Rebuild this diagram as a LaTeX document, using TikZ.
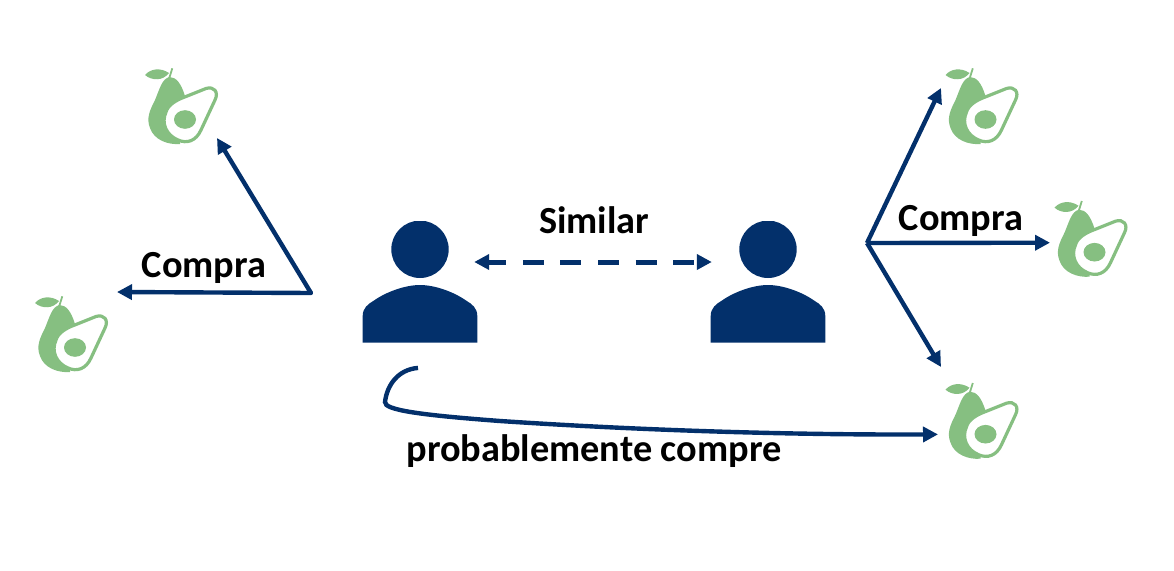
\documentclass[tikz,border=0pt]{standalone}
\usepackage{fontspec}
\setmainfont{Carlito}
\usepackage{xcolor}
\usetikzlibrary{arrows.meta}
\definecolor{navy}{HTML}{03306B}
\definecolor{leafgreen}{HTML}{86BF81}
\tikzset{
	avocado/.style={minimum size=88pt,inner sep=0pt,path picture={
		\draw[leafgreen,line width=1.8pt] (-7.7,-41.7)--(-10.7,-32);
		\fill[leafgreen] (-35,-35) .. controls (-30,-41) and (-20,-43) .. (-11,-37) .. controls (-17,-29) and (-28,-29) .. (-35,-35);
		\fill[leafgreen] (-10.7,-33) .. controls (-4,-33) and (1,-27) .. (5,-14) -- (0,34) .. controls (-12,35) and (-26,30) .. (-30,18) .. controls (-34,8) and (-30,0) .. (-25,-10) .. controls (-20,-22) and (-18,-31) .. (-10.7,-33);
		\draw[leafgreen,line width=3.2pt,fill=white] (6,-13.5) -- (26,-21.5) .. controls (34,-24) and (39,-18) .. (35,-10) -- (21,20) .. controls (16,31) and (7,34) .. (-2,30) .. controls (-14,25) and (-19,13) .. (-14,2) .. controls (-12,-5) and (-4,-10) .. (6,-13.5) -- cycle;
		\fill[leafgreen,rotate around={40:(5,9.5)}] (5,9.5) ellipse [x radius=11,y radius=9.3];
		}},
	usernode/.style={minimum width=116pt,minimum height=122pt,inner sep=0pt,path picture={
		\fill[navy] (0,-32.7) circle [radius=28.7];
		\fill[navy] (-57.3,60.7) -- (-57.3,34) .. controls (-57.3,26) and (-52,22) .. (-46,18.5) .. controls (-34,10) and (-15,3) .. (0,3) .. controls (15,3) and (34,10) .. (46,18.5) .. controls (52,22) and (57.3,26) .. (57.3,34) -- (57.3,60.7) -- cycle;
		}},
	buyline/.style={navy,line width=4.4pt},
	caption/.style={font=\bfseries\fontsize{38.3}{42}\selectfont,text=black,inner sep=0pt},
}
\begin{document}
\begin{tikzpicture}[x=1pt,y=-1pt,>={Triangle[length=15pt,width=15pt]}]
\useasboundingbox (0,0) rectangle (1174,570);

\node[usernode] (userA) at (420,282) {};
\node[usernode] (userB) at (768,282) {};

\node[avocado] (avoLT) at (180,110) {};
\node[avocado] (avoLB) at (70,338) {};
\node[avocado] (avoRT) at (980.5,110) {};
\node[avocado] (avoRM) at (1089.5,242.7) {};
\node[avocado] (avoRB) at (980.5,424.7) {};

\coordinate (hubL) at (311,293);
\coordinate (hubR) at (867,243);

\node[caption] (similar) at (594,220) {Similar};
\node[caption] (buyL) at (204,268) {Compra};
\node[caption] (buyR) at (961,221) {Compra};
\node[caption] (likely) at (594,451.5) {probablemente compre};

\draw[<->,buyline,line join=round] ([shift={(37pt,-28pt)}]avoLT.center)--(hubL)--([shift={(47pt,46pt)}]avoLB.center);
\draw[<->,buyline,line width=5pt,dash pattern=on 21pt off 16.6pt,dash phase=3pt] ([shift={(-4pt,20pt)}]userA.east)--([shift={(2pt,20pt)}]userB.west);

\draw[->,buyline] (hubR)--([shift={(-39.5pt,22pt)}]avoRT.center);
\draw[->,buyline] (hubR)--([xshift=-39.5pt]avoRM.center);
\draw[->,buyline] (hubR)--([shift={(-39.5pt,57.7pt)}]avoRB.center);

\draw[->,buyline] ([shift={(-2pt,-24.7pt)}]userA.south) .. controls (398,369.5) and (387,385) .. (385,402) .. controls (384,410) and (420,415) .. (500,421) .. controls (650,431) and (800,435) .. ([shift={(-42.5pt,-9.7pt)}]avoRB.center);
\end{tikzpicture}
\end{document}
